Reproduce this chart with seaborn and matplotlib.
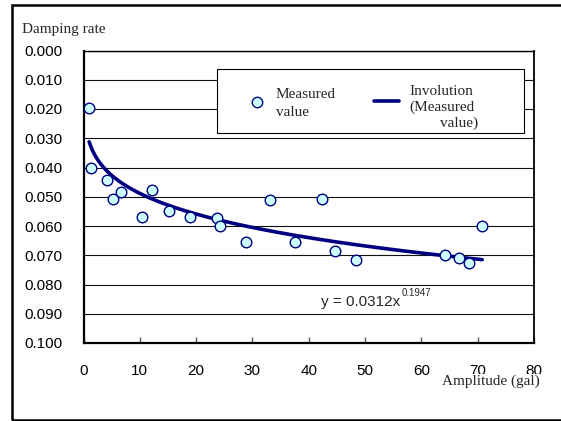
import numpy as np
import pandas as pd
import matplotlib
matplotlib.use("Agg")
import matplotlib.pyplot as plt
import seaborn as sns
from matplotlib.patches import Rectangle
from matplotlib.lines import Line2D
from matplotlib.ticker import FormatStrFormatter

# ---- data ----
amplitude = [1.0, 1.3, 4.2, 5.2, 6.6, 10.4, 12.1, 15.2, 18.9, 23.7, 24.3,
             28.9, 33.2, 37.6, 42.4, 44.7, 48.4, 64.2, 66.7, 68.4, 70.8]
damping = [0.0197, 0.0402, 0.0442, 0.0508, 0.0485, 0.0569, 0.0476, 0.0550,
           0.0569, 0.0571, 0.0599, 0.0656, 0.0511, 0.0655, 0.0508, 0.0687,
           0.0717, 0.0700, 0.0708, 0.0728, 0.0599]
fit_coef = 0.0312
fit_expo = 0.1947
fit_range = [1.0, 70.8]
x_ticks = [0, 10, 20, 30, 40, 50, 60, 70, 80]
y_ticks = [0.000, 0.010, 0.020, 0.030, 0.040, 0.050, 0.060, 0.070, 0.080, 0.090, 0.100]
legend_labels = ["Measured\nvalue", "Involution\n(Measured\n        value)"]
y_title = "Damping rate"
x_title = "Amplitude (gal)"

NAVY = "#000080"
FILL = "#CCFFFF"
SERIF = ["Liberation Serif", "DejaVu Serif"]

sns.set_style("white")
plt.rcParams["font.family"] = ["Liberation Sans", "DejaVu Sans"]

W, H = 561, 421
fig = plt.figure(figsize=(W / 100, H / 100), dpi=100)
fig.patch.set_facecolor("white")

ax = fig.add_axes([83.5 / W, 1 - 343 / H, (534 - 83.5) / W, (343 - 50.5) / H])

df = pd.DataFrame({"amp": amplitude, "damp": damping})
xs = np.linspace(fit_range[0], fit_range[1], 200)
fit = pd.DataFrame({"amp": xs, "damp": fit_coef * xs ** fit_expo})

sns.lineplot(data=fit, x="amp", y="damp", color=NAVY, lw=2.6, ax=ax, zorder=3)
sns.scatterplot(data=df, x="amp", y="damp", s=58, color=FILL, edgecolor=NAVY,
                linewidth=1.0, ax=ax, zorder=4, legend=False)

ax.set_xlim(0, 80)
ax.set_ylim(0.1, 0.0)
ax.set_xticks(x_ticks)
ax.set_yticks(y_ticks)
ax.yaxis.set_major_formatter(FormatStrFormatter("%.3f"))
ax.set_xlabel("")
ax.set_ylabel("")
ax.grid(axis="y", color="#111111", lw=0.8)
ax.grid(axis="x", visible=False)
ax.set_axisbelow(True)

ax.tick_params(axis="y", length=0, pad=15, labelsize=11, labelcolor="black")
ax.tick_params(axis="x", direction="in", length=4, width=1, color="#555555",
               pad=15, labelsize=11, labelcolor="black", top=False, bottom=True)

for side, lw in [("left", 1.6), ("bottom", 1.6), ("top", 1.0), ("right", 1.3)]:
    ax.spines[side].set_visible(True)
    ax.spines[side].set_color("black")
    ax.spines[side].set_linewidth(lw)

# ---- legend box (manual, Excel style) ----
fig.add_artist(Rectangle((217 / W, 1 - 133 / H), 307 / W, 64 / H,
                         transform=fig.transFigure, facecolor="white",
                         edgecolor="black", lw=0.8, zorder=5))
fig.add_artist(Line2D([257 / W], [1 - 101.5 / H], transform=fig.transFigure,
                      marker="o", ls="", markersize=7.5, markerfacecolor=FILL,
                      markeredgecolor=NAVY, mew=1.0, zorder=6))
fig.text(276 / W, 1 - 115.5 / H, legend_labels[0], ha="left", va="baseline",
         family=SERIF, size=11, linespacing=1.5, zorder=6)
fig.add_artist(Line2D([374 / W, 399 / W], [1 - 101 / H, 1 - 101 / H],
                      transform=fig.transFigure, color=NAVY, lw=2.6, zorder=6))
fig.text(409 / W, 1 - 126.5 / H, legend_labels[1], ha="left", va="baseline",
         family=SERIF, size=11, linespacing=1.22, zorder=6)

# ---- equation ----
fig.text(400 / W, 1 - 306 / H, f"y = {fit_coef}x", ha="right", va="baseline",
         size=11, zorder=6)
fig.text(401.5 / W, 1 - 296 / H, f"{fit_expo}", ha="left", va="baseline",
         size=7, zorder=6)

# ---- titles ----
fig.text(22 / W, 1 - 33 / H, y_title, ha="left", va="baseline",
         family=SERIF, size=11)
fig.text(540 / W, 1 - 385 / H, x_title, ha="right", va="baseline",
         family=SERIF, size=11, zorder=6,
         bbox=dict(boxstyle="square,pad=0.05", facecolor="white",
                   edgecolor="none"))

# ---- outer chart frame ----
fig.add_artist(Rectangle((12 / W, 1 - 419.5 / H), 1.0, (419.5 - 5) / H,
                         transform=fig.transFigure, fill=False,
                         edgecolor="black", lw=1.8, zorder=1))

fig.savefig("out.png", dpi=100)
